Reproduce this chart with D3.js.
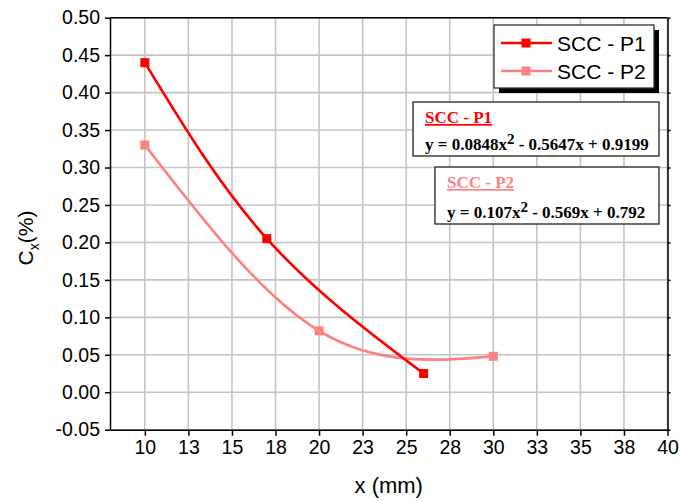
<!DOCTYPE html>
<html>
<head>
<meta charset="utf-8">
<script src="https://cdn.jsdelivr.net/npm/d3@7"></script>
<style>
  body { margin: 0; background: #fff; }
  svg { display: block; }
  text { font-family: "Liberation Sans", Arial, sans-serif; }
</style>
</head>
<body>
<svg width="680" height="501"></svg>
<script>
// data
const xP1 = [10, 17, 26];
const yP1 = [0.44, 0.205, 0.025];
const xP2 = [10, 20, 30];
const yP2 = [0.33, 0.082, 0.048];

const seriesNames = ["SCC - P1", "SCC - P2"];
const seriesColors = ["#ff0000", "#ff8080"];
const equations = [
    ["y = 0.0848x", "2", " - 0.5647x + 0.9199"],
    ["y = 0.107x", "2", " - 0.569x + 0.792"]
];

const xTicks = [10, 12.5, 15, 17.5, 20, 22.5, 25, 27.5, 30, 32.5, 35, 37.5, 40];
const yTicks = [-0.05, 0, 0.05, 0.1, 0.15, 0.2, 0.25, 0.3, 0.35, 0.4, 0.45, 0.5];

const svg = d3.select("svg");

// plot area
const pLeft = 110, pRight = 667.5, pTop = 17.7, pBottom = 429.7;

const x = d3.scaleLinear().domain([8, 40]).range([pLeft, pRight]);
const y = d3.scaleLinear().domain([-0.05, 0.5]).range([pBottom, pTop]);

// grid
svg.append("g")
    .selectAll("line")
    .data(xTicks)
    .join("line")
    .attr("x1", d => x(d)).attr("x2", d => x(d))
    .attr("y1", pTop).attr("y2", pBottom)
    .style("stroke", "#c4c4c4")
    .style("stroke-width", 1.6);

svg.append("g")
    .selectAll("line")
    .data(yTicks)
    .join("line")
    .attr("x1", pLeft).attr("x2", pRight)
    .attr("y1", d => y(d)).attr("y2", d => y(d))
    .style("stroke", "#c4c4c4")
    .style("stroke-width", 1.6);

// axes (plain hyphen for negatives, like the original)
const fmtY = d => d.toFixed(2);
const fmtX = d => d.toFixed(0);

const xAxis = svg.append("g")
    .attr("transform", `translate(0,${pBottom})`)
    .call(d3.axisBottom(x).tickValues(xTicks).tickFormat(fmtX).tickSize(6).tickSizeOuter(0).tickPadding(4));

const yAxis = svg.append("g")
    .attr("transform", `translate(${pLeft},0)`)
    .call(d3.axisLeft(y).tickValues(yTicks).tickFormat(fmtY).tickSize(5).tickSizeOuter(0).tickPadding(5));

const rAxis = svg.append("g")
    .attr("transform", `translate(${pRight},0)`)
    .call(d3.axisRight(y).tickValues(yTicks).tickFormat("").tickSize(3).tickSizeOuter(0));

[xAxis, yAxis, rAxis].forEach(a => {
    a.selectAll("path, line").style("stroke", "#000").style("stroke-width", 1.5);
    a.selectAll("text").style("font-size", "19.5px").style("fill", "#000")
        .style("font-family", "'Liberation Sans', Arial, sans-serif");
});

// top border
svg.append("line")
    .attr("x1", pLeft).attr("x2", pRight)
    .attr("y1", pTop).attr("y2", pTop)
    .style("stroke", "#000").style("stroke-width", 1.5);

// axis titles
svg.append("text")
    .attr("x", (pLeft + pRight) / 2).attr("y", 493)
    .attr("text-anchor", "middle")
    .style("font-size", "22px")
    .text("x (mm)");

const yTitle = svg.append("text")
    .attr("transform", "translate(33,238) rotate(-90)")
    .attr("text-anchor", "middle")
    .style("font-size", "21px");
yTitle.append("tspan").text("C");
yTitle.append("tspan").attr("dy", 6).style("font-size", "14px").text("x");
yTitle.append("tspan").attr("dy", -6).text("(%)");

// curves
const line = d3.line()
    .x(d => x(d[0]))
    .y(d => y(d[1]))
    .curve(d3.curveNatural);

const series = [
    d3.zip(xP1, yP1),
    d3.zip(xP2, yP2)
];

// draw P2 first so P1 sits on top
[1, 0].forEach(i => {
    svg.append("path")
        .datum(series[i])
        .attr("d", line)
        .style("fill", "none")
        .style("stroke", seriesColors[i])
        .style("stroke-width", 2.7);

    svg.append("g")
        .selectAll("rect")
        .data(series[i])
        .join("rect")
        .attr("x", d => x(d[0]) - 4.5)
        .attr("y", d => y(d[1]) - 4.5)
        .attr("width", 9)
        .attr("height", 9)
        .style("fill", seriesColors[i]);
});

// legend
const lg = svg.append("g");
lg.append("rect")
    .attr("x", 499).attr("y", 30).attr("width", 160).attr("height", 63)
    .style("fill", "#000");
lg.append("rect")
    .attr("x", 494).attr("y", 25).attr("width", 160).attr("height", 63)
    .style("fill", "#fff").style("stroke", "#333").style("stroke-width", 1.3);

seriesNames.forEach((name, i) => {
    const ry = 43 + i * 28;
    lg.append("line")
        .attr("x1", 501).attr("x2", 552).attr("y1", ry).attr("y2", ry)
        .style("stroke", seriesColors[i]).style("stroke-width", 2.7);
    lg.append("rect")
        .attr("x", 526 - 4.5).attr("y", ry - 4.5).attr("width", 9).attr("height", 9)
        .style("fill", seriesColors[i]);
    lg.append("text")
        .attr("x", 557).attr("y", ry + 7.5)
        .style("font-size", "21px")
        .text(name);
});

// equation boxes
const boxes = [
    { x: 413, y: 102, w: 246, h: 54 },
    { x: 435, y: 167, w: 224, h: 57 }
];

boxes.forEach((b, i) => {
    const g = svg.append("g");
    g.append("rect")
        .attr("x", b.x).attr("y", b.y).attr("width", b.w).attr("height", b.h)
        .style("fill", "#fff").style("stroke", "#222").style("stroke-width", 1.3);
    g.append("text")
        .attr("x", b.x + 12).attr("y", b.y + 21)
        .style("font-family", "'Liberation Serif', 'Times New Roman', serif")
        .style("font-weight", "bold")
        .style("font-size", "17px")
        .style("text-decoration", "underline")
        .style("fill", seriesColors[i])
        .text(seriesNames[i]);
    const eq = g.append("text")
        .attr("x", b.x + 12).attr("y", b.y + b.h - 6)
        .style("font-family", "'Liberation Serif', 'Times New Roman', serif")
        .style("font-weight", "bold")
        .style("font-size", "17px")
        .style("fill", "#000");
    eq.append("tspan").text(equations[i][0]);
    eq.append("tspan").attr("dy", -6).style("font-size", "15px").text(equations[i][1]);
    eq.append("tspan").attr("dy", 6).text(equations[i][2]);
});
</script>
</body>
</html>
